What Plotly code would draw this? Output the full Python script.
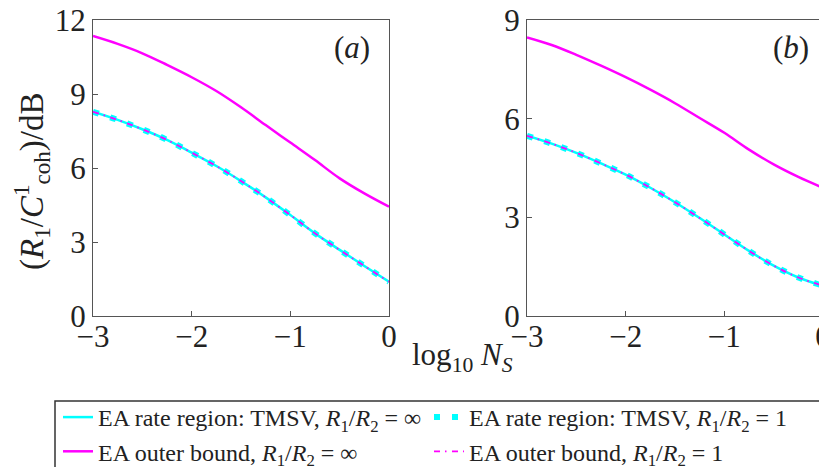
import plotly.graph_objects as go

# ---- data ----
log_ns = [-3, -2.75, -2.5, -2.25, -2, -1.75, -1.5, -1.25, -1, -0.75, -0.5, -0.25, 0]

a_outer_inf = [11.35, 11.03, 10.65, 10.18, 9.68, 9.12, 8.46, 7.74, 7.03, 6.32, 5.58, 4.97, 4.43]
a_rate = [8.28, 7.95, 7.57, 7.14, 6.62, 6.08, 5.47, 4.81, 4.09, 3.35, 2.68, 2.03, 1.39]

b_outer_inf = [8.47, 8.24, 7.94, 7.61, 7.26, 6.88, 6.47, 6.02, 5.57, 5.06, 4.61, 4.23, 3.90]
b_rate = [5.48, 5.24, 4.96, 4.64, 4.30, 3.90, 3.46, 2.98, 2.48, 1.98, 1.53, 1.17, 0.92]

x_ticks = [-3, -2, -1, 0]
a_yticks = [0, 3, 6, 9, 12]
b_yticks = [0, 3, 6, 9]

names = [
    "EA rate region: TMSV, <i>R</i><sub>1</sub>/<i>R</i><sub>2</sub> = ∞",
    "EA rate region: TMSV, <i>R</i><sub>1</sub>/<i>R</i><sub>2</sub> = 1",
    "EA outer bound, <i>R</i><sub>1</sub>/<i>R</i><sub>2</sub> = ∞",
    "EA outer bound, <i>R</i><sub>1</sub>/<i>R</i><sub>2</sub> = 1",
]

CYAN = "#00FFFF"
MAG = "#FF00FF"
FONT = "Liberation Serif"
W, H = 827, 467
OFF = 8  # page body margin


def px(x):
    return (x - OFF) / W


def py(y):
    return 1 - (y - OFF) / H


fig = go.Figure()

panels = [
    ("x", "y", a_rate, a_outer_inf, True),
    ("x2", "y2", b_rate, b_outer_inf, False),
]
for xa, ya, rate, outer, show in panels:
    fig.add_trace(go.Scatter(x=log_ns, y=rate, mode="lines", name=names[0],
                             line=dict(color=CYAN, width=2.5, shape="spline"),
                             xaxis=xa, yaxis=ya, showlegend=show))
    fig.add_trace(go.Scatter(x=log_ns, y=rate, mode="lines", name=names[1],
                             line=dict(color=CYAN, width=6, dash="6px,12px", shape="spline"),
                             xaxis=xa, yaxis=ya, showlegend=show))
    fig.add_trace(go.Scatter(x=log_ns, y=outer, mode="lines", name=names[2],
                             line=dict(color=MAG, width=2.5, shape="spline"),
                             xaxis=xa, yaxis=ya, showlegend=show))
    fig.add_trace(go.Scatter(x=log_ns, y=rate, mode="lines", name=names[3],
                             line=dict(color=MAG, width=1.8, dash="6px,5px,1.5px,5.5px", shape="spline"),
                             xaxis=xa, yaxis=ya, showlegend=show))

axis_common = dict(showline=True, linecolor="#555555", linewidth=1.2, mirror=True,
                   ticks="inside", ticklen=5, tickcolor="#555555", showgrid=False,
                   zeroline=False, ticklabeloverflow="allow",
                   tickfont=dict(family=FONT, size=31, color="#222222"))

txt = dict(family=FONT, size=31, color="#222222")

fig.update_layout(
    width=W, height=H,
    margin=dict(l=0, r=0, t=0, b=0, autoexpand=False),
    paper_bgcolor="white", plot_bgcolor="white",
    font=dict(family=FONT, color="#222222"),
    xaxis=dict(domain=[px(93), px(389)], range=[-3, 0], tickvals=x_ticks, anchor="y",
               ticklabelstandoff=-7, **axis_common),
    yaxis=dict(domain=[py(316), py(20)], range=[0, 12], tickvals=a_yticks, anchor="x", **axis_common),
    xaxis2=dict(domain=[px(527), px(823)], range=[-3, 0], tickvals=x_ticks, anchor="y2",
                ticklabelstandoff=-7, **axis_common),
    yaxis2=dict(domain=[py(316), py(20)], range=[0, 9], tickvals=b_yticks, anchor="x2", **axis_common),
    legend=dict(orientation="h", x=px(58), y=py(395), xanchor="left", yanchor="top",
                entrywidth=326, entrywidthmode="pixels", bgcolor="rgba(0,0,0,0)",
                font=dict(family=FONT, size=24, color="#222222"), tracegroupgap=0,
                itemwidth=30),
    shapes=[dict(type="rect", xref="paper", yref="paper", x0=px(55), x1=1.2,
                 y0=py(401), y1=-0.2, line=dict(color="#333333", width=1.5),
                 fillcolor="rgba(0,0,0,0)", layer="below")],
    annotations=[
        dict(text="(<i>a</i>)", x=px(352), y=py(48), xref="paper", yref="paper",
             xanchor="center", yanchor="middle", showarrow=False, font=txt),
        dict(text="(<i>b</i>)", x=px(791), y=py(48), xref="paper", yref="paper",
             xanchor="center", yanchor="middle", showarrow=False, font=txt),
        dict(text="(<i>R</i><sub>1</sub>/<i>C</i><sup>1</sup><sub>coh</sub>)/dB",
             x=px(32), y=py(182), xref="paper", yref="paper", textangle=-90,
             xanchor="center", yanchor="middle", showarrow=False,
             font=dict(family=FONT, size=33, color="#222222")),
        dict(text="log<sub>10</sub> <i>N</i><sub><i>S</i></sub>",
             x=px(462), y=py(357), xref="paper", yref="paper",
             xanchor="center", yanchor="middle", showarrow=False, font=txt),
    ],
)

fig.write_html("out.html")
